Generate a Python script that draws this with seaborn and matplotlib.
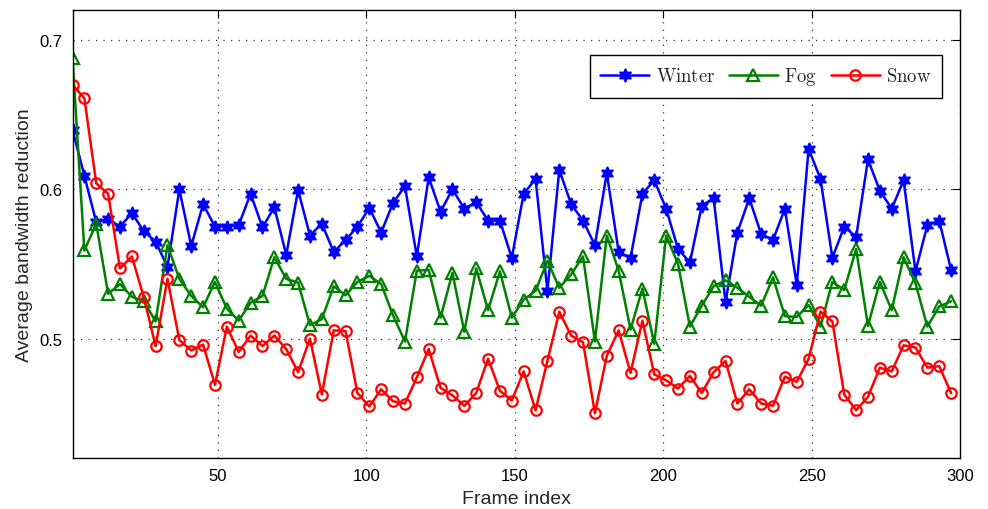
import numpy as np
import pandas as pd
import seaborn as sns
import matplotlib
matplotlib.use("Agg")
import matplotlib.pyplot as plt

# ---- data ----
frames = list(range(1, 298, 4))

winter = [0.640, 0.609, 0.578, 0.580, 0.575, 0.584, 0.572, 0.565,
          0.548, 0.600, 0.562, 0.590, 0.575, 0.575, 0.576, 0.597,
          0.5745, 0.588, 0.556, 0.5995, 0.569, 0.577, 0.558, 0.566,
          0.575, 0.5875, 0.571, 0.591, 0.602, 0.555, 0.608, 0.585,
          0.600, 0.587, 0.5915, 0.579, 0.579, 0.554, 0.597, 0.607,
          0.532, 0.613, 0.590, 0.579, 0.5625, 0.611, 0.558, 0.554,
          0.597, 0.606, 0.587, 0.560, 0.551, 0.589, 0.594, 0.5245,
          0.571, 0.594, 0.570, 0.566, 0.587, 0.536, 0.627, 0.607,
          0.554, 0.575, 0.568, 0.620, 0.599, 0.587, 0.606, 0.545,
          0.576, 0.579, 0.546]

fog = [0.688, 0.559, 0.577, 0.530, 0.5365, 0.528, 0.525, 0.5115,
       0.5625, 0.540, 0.5285, 0.521, 0.538, 0.520, 0.512, 0.524,
       0.5285, 0.5545, 0.540, 0.5375, 0.509, 0.513, 0.535, 0.529,
       0.538, 0.542, 0.5365, 0.5155, 0.498, 0.5455, 0.546, 0.514,
       0.544, 0.5045, 0.547, 0.519, 0.545, 0.514, 0.526, 0.532,
       0.552, 0.534, 0.543, 0.555, 0.498, 0.569, 0.5455, 0.506,
       0.5335, 0.4965, 0.569, 0.550, 0.508, 0.522, 0.535, 0.539,
       0.534, 0.528, 0.522, 0.541, 0.515, 0.5145, 0.5225, 0.508,
       0.538, 0.5325, 0.560, 0.5085, 0.538, 0.519, 0.5545, 0.537,
       0.508, 0.5215, 0.525]

snow = [0.670, 0.661, 0.604, 0.597, 0.547, 0.555, 0.528, 0.495,
        0.540, 0.499, 0.492, 0.496, 0.469, 0.508, 0.491, 0.502,
        0.495, 0.502, 0.493, 0.4775, 0.500, 0.4625, 0.5055, 0.505,
        0.4635, 0.4545, 0.466, 0.458, 0.4565, 0.474, 0.493, 0.467,
        0.462, 0.455, 0.4635, 0.4865, 0.465, 0.4585, 0.478, 0.452,
        0.485, 0.518, 0.502, 0.4975, 0.450, 0.4885, 0.5055, 0.477,
        0.512, 0.476, 0.472, 0.4665, 0.475, 0.4635, 0.4775, 0.485,
        0.4565, 0.466, 0.4565, 0.455, 0.4745, 0.471, 0.4865, 0.518,
        0.5115, 0.4625, 0.452, 0.461, 0.4805, 0.478, 0.4955, 0.494,
        0.4805, 0.4815, 0.4635]

series_names = ["Winter", "Fog", "Snow"]
x_ticks = [50, 100, 150, 200, 250, 300]
y_ticks = [0.5, 0.6, 0.7]

# ---- style ----
sns.set_theme(style="white")
plt.rcParams["font.family"] = ["Liberation Sans", "DejaVu Sans"]
plt.rcParams["mathtext.fontset"] = "cm"

fig = plt.figure(figsize=(9.88, 5.10), dpi=100)
ax = fig.add_axes([72.5 / 988, 1 - 459 / 510, (960 - 72.5) / 988, (459 - 10.7) / 510])

styles = {
    "Winter": dict(color="#0000ff", marker=(6, 1, 0), markersize=9.5,
                   markerfacecolor="#0000ff", markeredgecolor="#0000ff", markeredgewidth=1.2),
    "Fog": dict(color="#008000", marker="^", markersize=9,
                markerfacecolor="none", markeredgecolor="#008000", markeredgewidth=1.6),
    "Snow": dict(color="#ff0000", marker="o", markersize=7.5,
                 markerfacecolor="none", markeredgecolor="#ff0000", markeredgewidth=1.6),
}
values = {"Winter": winter, "Fog": fog, "Snow": snow}

for name in series_names:
    df = pd.DataFrame({"frame": frames, "value": values[name]})
    sns.lineplot(data=df, x="frame", y="value", ax=ax, linewidth=1.8,
                 label=r"$\mathrm{%s}$" % name, **styles[name])

ax.set_xlim(1, 300)
ax.set_ylim(0.42, 0.7203)
ax.set_xticks(x_ticks)
ax.set_yticks(y_ticks)
ax.set_xticklabels([str(t) for t in x_ticks])
ax.set_yticklabels([f"{t:.1f}" for t in y_ticks])

ax.grid(True, color="#333333", linestyle=(0, (1, 5)), linewidth=0.9)
ax.tick_params(direction="in", length=6, width=0.8, top=True, right=True,
               labelsize=12, colors="black", pad=7)
for sp in ax.spines.values():
    sp.set_color("black")
    sp.set_linewidth(1.0)

ax.set_xlabel("Frame index", fontsize=14, labelpad=5)
ax.set_ylabel("Average bandwidth reduction", fontsize=14, labelpad=5)

leg = ax.legend(ncol=3, loc="upper right", bbox_to_anchor=(0.9797, 0.899),
                fontsize=13.5, frameon=True, fancybox=False, framealpha=1,
                edgecolor="black", handlelength=2.6, handletextpad=0.35,
                columnspacing=0.75, borderpad=0.55, borderaxespad=0)
leg.get_frame().set_linewidth(1.0)

fig.savefig("out.png", dpi=100)
